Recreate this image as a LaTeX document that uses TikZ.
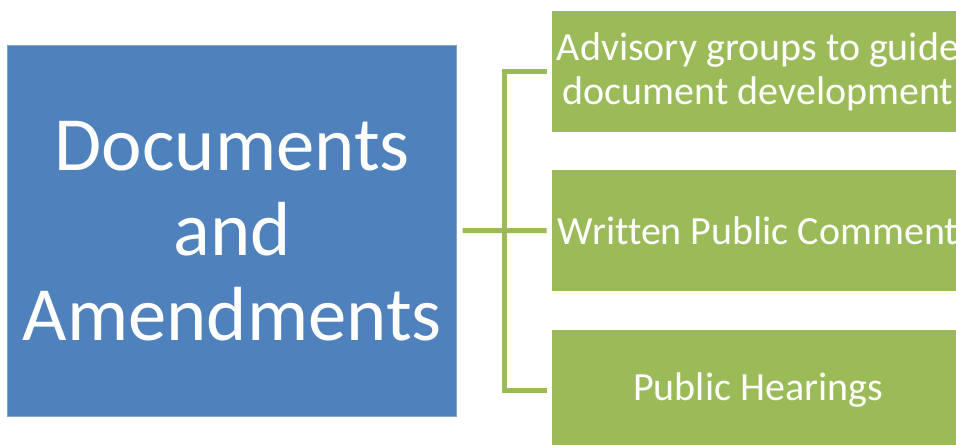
\documentclass[tikz,border=0pt]{standalone}
\usepackage{fontspec}
\setmainfont{Carlito}[Ligatures=NoCommon]
\definecolor{docblue}{HTML}{4F81BD}
\definecolor{itemgreen}{HTML}{9BBB59}
\begin{document}
\begin{tikzpicture}[x=0.75pt,y=-0.75pt,
topic/.style={fill=docblue,draw=docblue!70!white,line width=0.6pt,text=white,align=center,inner sep=0pt,
  minimum width=336.75pt,minimum height=277.9pt,font=\fontsize{57.5}{63.75}\selectfont},
item/.style={fill=itemgreen,text=white,align=center,inner sep=0pt,
  minimum width=309pt,minimum height=91.3pt,font=\fontsize{30}{33}\selectfont},
link/.style={draw=itemgreen,line width=3.75pt}]
\useasboundingbox(0,0)rectangle(956,445);
\clip(0,0)rectangle(956,445);
\node[topic](doc)at(232.25,230.75){Documents\\and\\Amendments};
\node[item](adv)at(758,71.5){Advisory groups to guide\\document development};
\node[item](wpc)at(758,230.5){Written Public Comment};
\node[item](hear)at(758,390.5){Public Hearings};
\coordinate(spine)at(504,230.5);
\draw[link,shorten <=5.5pt*0.75,shorten >=5pt*0.75](doc.east)--(wpc.west);
\draw[link](adv.west)++(-5,0)-|(spine)|-([xshift=-3.75pt]hear.west);
\end{tikzpicture}
\end{document}
